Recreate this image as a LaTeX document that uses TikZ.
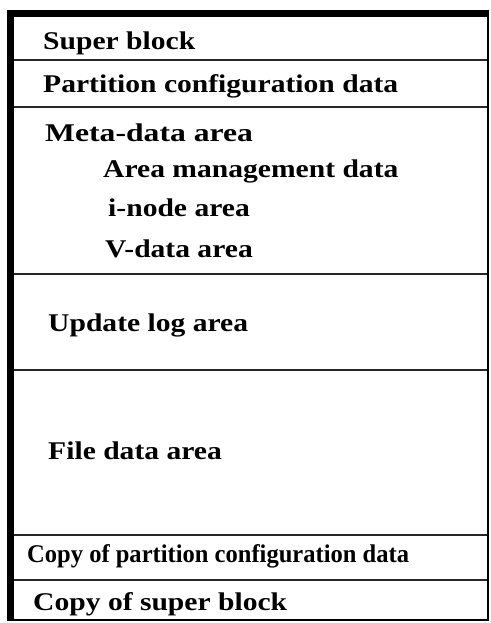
\documentclass[tikz,border=0pt]{standalone}
\usepackage{fontspec}
\setmainfont{Liberation Serif}
\usepackage{tikz}
\usetikzlibrary{positioning}

\begin{document}
\begin{tikzpicture}[
  x=1pt, y=-1pt,
  lbl/.style={anchor=base west, inner sep=0pt, xscale=1.16,
    font=\fontsize{25.5}{30}\selectfont\bfseries},
  small lbl/.style={lbl, xscale=0.83},
  divider/.style={line width=1.6pt, draw=black!85}
]
\useasboundingbox (0,0) rectangle (490,623);
% Frame: thick left and top edges, thin right and bottom edges
\fill (7,10) rectangle (14,621);
\fill (7,10) rectangle (489,17);
\draw[line width=2pt] (488,10) -- (488,621);
\draw[line width=2pt] (7,620) -- (489,620);

% Dividers between the areas
\foreach \yy in {60,107,274,370,535,580}
  \draw[divider] (14,\yy) -- (487,\yy);

% Area names
\node[lbl] (super) at (43,50) {Super block};
\node[lbl] (part) at (43,93) {Partition configuration data};
\node[lbl, xscale=1.07] (meta) at (45,141) {Meta-data area};
\node[lbl] (mgmt) at (103,177) {Area management data};
\node[lbl] (inode) at (108,216) {i-node area};
\node[lbl] (vdata) at (105,257) {V-data area};
\node[lbl] (ulog) at (48,331) {Update log area};
\node[lbl] (fdata) at (48,459) {File data area};
\node[small lbl] (cpart) at (27,562) {Copy of partition configuration data};
\node[lbl] (csuper) at (33,610) {Copy of super block};
\end{tikzpicture}
\end{document}
